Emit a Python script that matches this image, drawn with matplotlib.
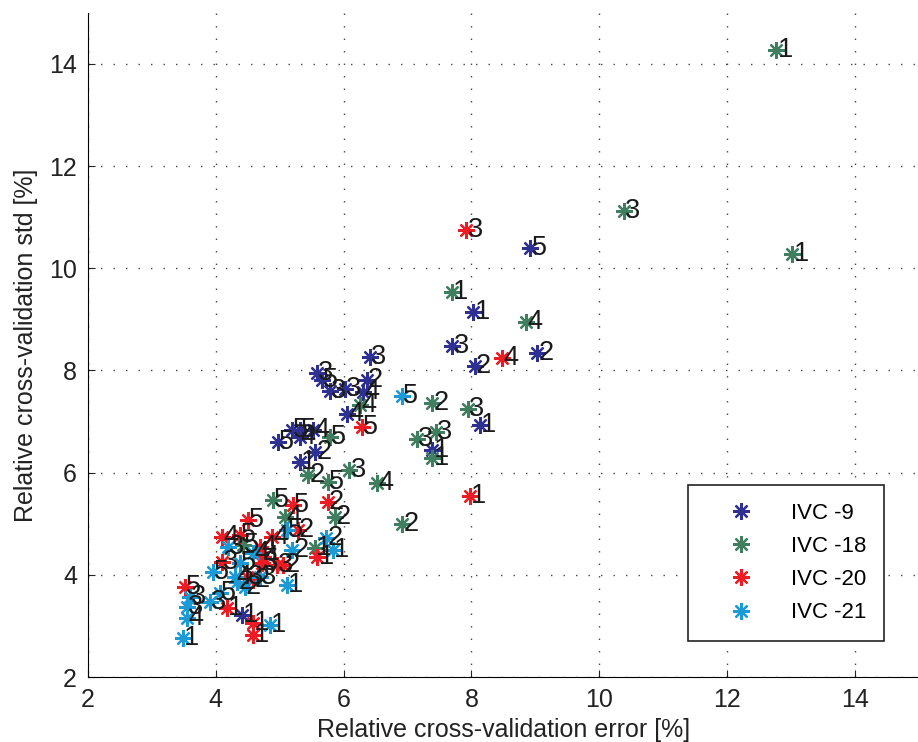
"""Relative cross-validation std vs error for four IVC sets."""

import matplotlib

matplotlib.use("Agg")
import matplotlib.pyplot as plt

plt.rcParams["font.family"] = ["Liberation Sans", "DejaVu Sans"]

SERIES = ["IVC -9", "IVC -18", "IVC -20", "IVC -21"]
COLORS = ["#2e3192", "#3f7f5f", "#ed1c24", "#1b9ad6"]

# IVC -9
X_9 = [8.92, 8.03, 7.70, 8.05, 9.03, 8.13, 7.39, 6.41, 6.36, 5.58, 5.66, 5.78,
       6.02, 6.30, 6.06, 4.97, 5.19, 5.31, 5.52, 5.31, 5.55, 5.31, 4.41]
Y_9 = [10.39, 9.14, 8.47, 8.08, 8.35, 6.94, 6.45, 8.27, 7.82, 7.96, 7.82, 7.59,
       7.63, 7.57, 7.14, 6.61, 6.84, 6.84, 6.84, 6.69, 6.41, 6.20, 3.22]
L_9 = ["5", "1", "3", "2", "2", "1", "1", "3", "2", "3", "5", "3",
       "3", "4", "4", "5", "5", "5", "4", "4", "2", "1", "1"]

# IVC -18
X_18 = [12.77, 10.38, 13.02, 7.69, 8.86, 7.39, 7.94, 7.44, 7.14, 7.39, 6.25,
        5.78, 5.44, 5.75, 6.09, 6.52, 6.92, 5.86, 4.89, 5.08, 5.55, 4.42]
Y_18 = [14.27, 11.12, 10.29, 9.53, 8.94, 7.37, 7.25, 6.80, 6.65, 6.29, 7.33,
        6.69, 5.96, 5.82, 6.06, 5.80, 5.00, 5.14, 5.47, 5.14, 4.53, 4.59]
L_18 = ["1", "3", "1", "1", "4", "2", "3", "3", "3", "1", "4",
        "5", "2", "5", "3", "4", "2", "2", "5", "4", "1", "5"]

# IVC -20
X_20 = [7.92, 8.48, 6.28, 7.97, 5.75, 5.20, 4.50, 5.28, 4.09, 4.38, 4.88, 4.69,
        4.73, 5.59, 4.09, 4.72, 4.95, 5.05, 4.58, 3.52, 4.17, 4.58, 4.58, 4.48]
Y_20 = [10.75, 8.25, 6.90, 5.55, 5.43, 5.37, 5.08, 4.88, 4.75, 4.78, 4.75, 4.55,
        4.35, 4.35, 4.25, 4.24, 4.20, 4.20, 3.90, 3.76, 3.35, 3.06, 2.82, 3.96]
L_20 = ["3", "4", "5", "1", "2", "5", "5", "2", "4", "5", "4", "4",
        "4", "1", "3", "3", "3", "2", "2", "5", "1", "1", "1", "3"]

# IVC -21
X_21 = [6.91, 5.73, 5.83, 5.19, 5.11, 5.11, 4.84, 4.19, 4.58, 4.38, 3.95, 4.30,
        4.69, 4.45, 4.33, 4.06, 3.91, 3.55, 3.55, 3.48, 3.59]
Y_21 = [7.51, 4.73, 4.49, 4.49, 4.88, 3.80, 3.02, 4.55, 4.43, 4.24, 4.06, 3.96,
        3.96, 3.76, 3.86, 3.65, 3.47, 3.37, 3.16, 2.76, 3.57]
L_21 = ["5", "2", "1", "2", "5", "1", "1", "3", "4", "5", "5", "4",
        "3", "2", "2", "5", "3", "3", "4", "1", "3"]

TICKS = [2, 4, 6, 8, 10, 12, 14]


def main():
    fig = plt.figure(figsize=(9.18, 7.42), dpi=100)
    ax = fig.add_axes([0.0959, 0.0876, 0.905, 0.895])

    data = [(X_9, Y_9, L_9), (X_18, Y_18, L_18), (X_20, Y_20, L_20), (X_21, Y_21, L_21)]
    for name, color, (xs, ys, labels) in zip(SERIES, COLORS, data):
        ax.plot(xs, ys, linestyle="none", marker=(8, 2, 0), markersize=12,
                markeredgewidth=1.6, color=color, markeredgecolor=color, label=name)
        for x, y, lab in zip(xs, ys, labels):
            ax.text(x + 0.02, y, lab, fontsize=19.5, color="#1a1a1a", ha="left", va="center")

    ax.set_xlim(2, 15)
    ax.set_ylim(2, 15)
    ax.set_xticks(TICKS)
    ax.set_yticks(TICKS)
    ax.tick_params(direction="in", length=5, labelsize=18, colors="#222222", pad=8)
    ax.grid(True, color="#444444", linestyle=(0, (1, 8)), linewidth=1.0)
    ax.spines["top"].set_visible(False)
    ax.spines["right"].set_visible(False)
    ax.set_xlabel("Relative cross-validation error [%]", fontsize=18, color="#222222",
                  labelpad=4)
    ax.set_ylabel("Relative cross-validation std [%]", fontsize=18, color="#222222",
                  labelpad=8)

    leg = ax.legend(loc="lower right", bbox_to_anchor=(0.958, 0.054), fontsize=16,
                    fancybox=False, framealpha=1, edgecolor="#222222",
                    handlelength=3.24, handletextpad=0.6, borderpad=0.8,
                    labelspacing=0.55, borderaxespad=0)
    leg.get_frame().set_linewidth(1.2)

    fig.savefig("out.png", dpi=100)
    plt.close(fig)


if __name__ == "__main__":
    main()
